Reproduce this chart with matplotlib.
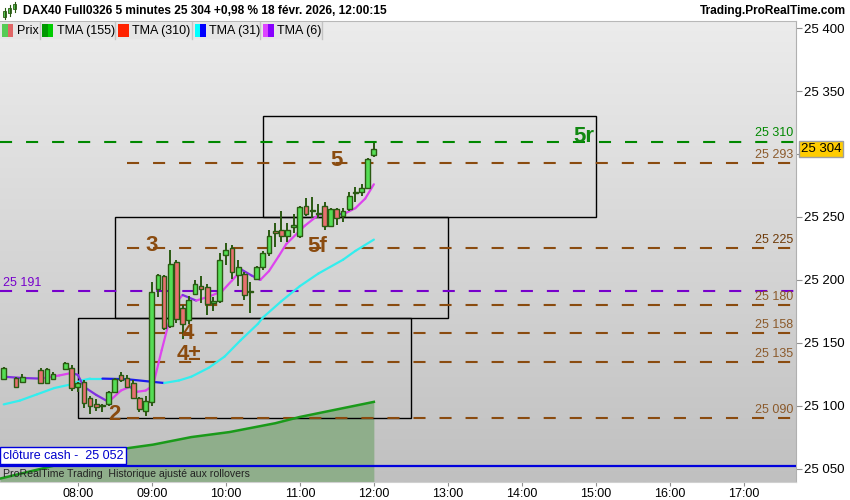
import numpy as np
import matplotlib
matplotlib.use('Agg')
import matplotlib.pyplot as plt
from matplotlib.colors import LinearSegmentedColormap
from matplotlib.collections import LineCollection
from matplotlib.patches import Rectangle

plt.rcParams['font.family'] = ['Liberation Sans', 'DejaVu Sans']


def hrs(t):
    hh, mm = t.split(':')
    return int(hh) + int(mm) / 60.0


def fmt(v):
    return f'{v:,}'.replace(',', ' ')


# --- bougies 5 minutes (DAX40 Full0326) ---
times = ['07:00', '07:10', '07:15', '07:30', '07:35', '07:40', '07:50', '07:55',
         '08:00', '08:05', '08:10', '08:15', '08:20', '08:25', '08:30', '08:35',
         '08:40', '08:45', '08:50', '08:55', '09:00', '09:05', '09:10', '09:15',
         '09:20', '09:25', '09:30', '09:35', '09:40', '09:45', '09:50', '09:55',
         '10:00', '10:05', '10:10', '10:15', '10:20', '10:25', '10:30', '10:35',
         '10:40', '10:45', '10:50', '10:55', '11:00', '11:05', '11:10', '11:15',
         '11:20', '11:25', '11:30', '11:35', '11:40', '11:45', '11:50', '11:55',
         '12:00']
opens = [25121, 25122, 25119, 25128, 25118, 25121, 25129, 25130,
         25115, 25119, 25106, 25101, 25100, 25101, 25111, 25124,
         25122, 25118, 25106, 25096, 25103, 25193, 25203, 25163,
         25214, 25178, 25168, 25189, 25195, 25194, 25182, 25183,
         25220, 25225, 25204, 25205, 25190, 25201, 25210, 25221,
         25239, 25240, 25235, 25242, 25235, 25259, 25255, 25252,
         25259, 25243, 25256, 25251, 25256, 25269, 25270, 25273,
         25299]
highs = [25131, 25123, 25125, 25130, 25130, 25127, 25135, 25132,
         25119, 25120, 25108, 25105, 25101, 25112, 25122, 25127,
         25124, 25120, 25107, 25108, 25198, 25205, 25204, 25224,
         25216, 25180, 25187, 25200, 25203, 25197, 25186, 25221,
         25229, 25228, 25216, 25206, 25198, 25211, 25223, 25240,
         25245, 25255, 25245, 25252, 25259, 25265, 25266, 25260,
         25262, 25257, 25257, 25257, 25270, 25274, 25276, 25297,
         25309]
lows = [25120, 25114, 25118, 25117, 25117, 25120, 25128, 25112,
        25111, 25098, 25093, 25096, 25095, 25100, 25110, 25119,
        25114, 25105, 25095, 25092, 25100, 25186, 25160, 25162,
        25166, 25153, 25165, 25188, 25182, 25172, 25175, 25182,
        25212, 25201, 25195, 25184, 25174, 25200, 25208, 25219,
        25226, 25230, 25230, 25237, 25233, 25251, 25249, 25249,
        25240, 25242, 25244, 25246, 25255, 25262, 25267, 25272,
        25298]
closes = [25130, 25115, 25123, 25118, 25129, 25125, 25134, 25114,
          25118, 25102, 25100, 25099, 25100, 25111, 25121, 25120,
          25115, 25106, 25097, 25104, 25190, 25204, 25162, 25213,
          25169, 25165, 25184, 25197, 25193, 25181, 25182, 25216,
          25224, 25206, 25210, 25188, 25190, 25210, 25221, 25235,
          25237, 25235, 25240, 25244, 25258, 25252, 25255, 25253,
          25243, 25256, 25249, 25255, 25267, 25269, 25273, 25296,
          25304]

# --- moyennes TMA ---
tma6_t = ['07:00', '07:15', '07:30', '07:45', '07:55', '08:00', '08:05', '08:15',
          '08:25', '08:35', '08:42', '08:48', '08:55', '09:01', '09:08', '09:13',
          '09:18', '09:25', '09:36', '09:47', '09:57', '10:05', '10:13', '10:21',
          '10:28', '10:35', '10:43', '10:49', '11:04', '11:15', '11:26', '11:35',
          '11:45', '11:53', '12:00']
tma6_v = [25123, 25122, 25121.5, 25124, 25126, 25124.5, 25115, 25108.5,
          25103, 25112, 25115, 25111, 25112, 25116, 25144, 25163,
          25180, 25188, 25183.5, 25187, 25191, 25199.5, 25208, 25203.4,
          25200, 25207, 25219, 25228.5, 25243, 25251.6, 25253.4, 25252,
          25257, 25264.6, 25276]

tma31_t = ['07:00', '07:13', '07:27', '07:41', '07:55', '08:03', '08:10', '08:20',
           '08:40', '09:00', '09:10', '09:22', '09:32', '09:46', '09:59', '10:12',
           '10:26', '10:30', '10:45', '11:00', '11:15', '11:35', '11:45', '12:00']
tma31_v = [25101, 25104, 25109, 25114, 25117, 25120, 25121.5, 25121.5,
           25121, 25119, 25118, 25120, 25123, 25130, 25139, 25152,
           25165, 25170, 25183, 25195, 25205, 25216, 25223, 25232]

tma155_t = ['06:57', '08:39', '09:01', '09:32', '10:03', '10:40', '11:00', '11:30', '12:00']
tma155_v = [25042, 25066, 25069, 25075, 25079, 25086, 25091, 25097, 25103]

# --- niveaux et zones ---
level_green = 25310
levels_brown = [25293, 25225, 25180, 25158, 25135, 25090]
level_purple = 25191
cash_close = 25052
last_price = 25304
brown_start = '08:40'

box_start = ['08:00', '08:30', '10:30']
box_end = ['12:30', '13:00', '15:00']
box_low = [25090, 25170, 25250]
box_high = [25170, 25250, 25330]

wave_labels = ['2', '3', '4', '4±', '5', '5f']
wave_t = ['08:30', '09:00', '09:29', '09:30', '11:30', '11:14']
wave_p = [25092.6, 25227.7, 25157, 25140.3, 25294.5, 25226.6]

x_ticks = ['08:00', '09:00', '10:00', '11:00', '12:00', '13:00', '14:00', '15:00', '16:00', '17:00']
y_ticks = [25050, 25100, 25150, 25200, 25250, 25300, 25350, 25400]

BROWN = '#8a4b0f'
BROWN_TXT = '#8b5a2b'
GREEN_LVL = '#008800'
PURPLE = '#7700cc'

W, H = 850, 500
fig = plt.figure(figsize=(W / 100, H / 100), dpi=100)
fig.patch.set_facecolor('white')
# zone de tracé : x 0..796 px, y 21..482 px
ax = fig.add_axes([0, (H - 482) / H, 796 / W, (482 - 21) / H])

xmin, xmax = hrs('06:57') - 0.0005, 17.703
ymin, ymax = 25039.3, 25405.8

# fond en dégradé
cmap = LinearSegmentedColormap.from_list('bg', ['#ececec', '#c0c0c0'])
ax.imshow(np.linspace(0, 1, 256).reshape(-1, 1), cmap=cmap, aspect='auto',
          extent=[0, 1, 0, 1], transform=ax.transAxes, zorder=0)

# TMA 155 + remplissage
t155 = [hrs(t) for t in tma155_t]
ax.fill_between(t155, tma155_v, ymin, color='#8fae8b', zorder=1, lw=0)
ax.plot(t155, tma155_v, color='#1a9a1a', lw=1.8, zorder=4)

# clôture cash
ax.axhline(cash_close, color='#0000dd', lw=1.6, zorder=4)

# rectangles
for s, e, lo, hi in zip(box_start, box_end, box_low, box_high):
    ax.add_patch(Rectangle((hrs(s), lo), hrs(e) - hrs(s), hi - lo,
                           fill=False, edgecolor='black', lw=1.0, zorder=2))

dash = (0, (5.8, 6.7))
ax.axhline(level_green, color=GREEN_LVL, lw=1.5, ls=dash, zorder=3)
ax.axhline(level_purple, color=PURPLE, lw=1.5, ls=dash, zorder=3)
ax.hlines(levels_brown, hrs(brown_start), xmax, color=BROWN, lw=1.5, ls=dash, zorder=3)


def slope_line(xs, ys, up, down, lw):
    pts = np.column_stack([xs, ys])
    segs = np.stack([pts[:-1], pts[1:]], axis=1)
    cols = [up if b >= a else down for a, b in zip(ys[:-1], ys[1:])]
    ax.add_collection(LineCollection(segs, colors=cols, linewidths=lw,
                                     capstyle='round', zorder=4))


slope_line([hrs(t) for t in tma31_t], tma31_v, '#33eeee', '#1a1aee', 1.6)
slope_line([hrs(t) for t in tma6_t], tma6_v, '#dd44ee', '#8030e0', 1.6)

# bougies
tx = np.array([hrs(t) for t in times])
o = np.array(opens); c = np.array(closes)
ax.vlines(tx, lows, highs, color='#2a5a12', lw=1.4, zorder=5)
body_col = np.where(c >= o, '#55dd55', '#e87070')
ax.bar(tx, np.maximum(np.abs(c - o), 0.9), bottom=np.minimum(o, c), width=0.064,
       color=body_col, edgecolor='#2a5a12', linewidth=1.0, zorder=6)

# étiquettes des vagues
for lab, t, p in zip(wave_labels, wave_t, wave_p):
    ax.text(hrs(t), p, lab, color=BROWN, fontsize=16, fontweight='bold',
            ha='center', va='center', zorder=7)
ax.text(hrs('14:50'), 25313.6, '5r', color='#118811', fontsize=16, fontweight='bold',
        ha='center', va='center', zorder=7)

# étiquettes des niveaux
ytr = ax.get_yaxis_transform()
ax.annotate(fmt(level_green), xy=(1, level_green), xycoords=ytr,
            xytext=(-2, 1.5), textcoords='offset points', ha='right', va='bottom',
            color=GREEN_LVL, fontsize=9, zorder=7)
for lv in levels_brown:
    ax.annotate(fmt(lv), xy=(1, lv), xycoords=ytr,
                xytext=(-2, 1.5), textcoords='offset points', ha='right', va='bottom',
                color=('#6e3a08' if lv == 25225 else BROWN_TXT), fontsize=9, zorder=7)
ax.annotate(fmt(level_purple), xy=(0, level_purple), xycoords=ytr,
            xytext=(2, 1.5), textcoords='offset points', ha='left', va='bottom',
            color=PURPLE, fontsize=9, zorder=7)
ax.annotate(f'clôture cash -  {fmt(cash_close)}', xy=(0, cash_close), xycoords=ytr,
            xytext=(2, 3), textcoords='offset points', ha='left', va='bottom',
            color='#0000cc', fontsize=9, zorder=7,
            bbox=dict(boxstyle='square,pad=0.2', fc='white', ec='#0000dd', lw=1))

# prix courant
ax.text(1.006, last_price, fmt(last_price), transform=ytr,
        ha='left', va='center', fontsize=9.5, color='black', zorder=8, clip_on=False,
        bbox=dict(boxstyle='square,pad=0.15', fc='#ffcc00', ec='#a0a0a0', lw=1))

# axes
ax.set_xlim(xmin, xmax)
ax.set_ylim(ymin, ymax)
ax.yaxis.tick_right()
ax.set_yticks(y_ticks)
ax.set_yticklabels([('' if v == 25300 else fmt(v)) for v in y_ticks], fontsize=9.5)
ax.set_xticks([hrs(t) for t in x_ticks])
ax.set_xticklabels(x_ticks, fontsize=9)
ax.tick_params(axis='y', length=4, color='#909090', pad=2)
ax.tick_params(axis='x', length=3, color='#909090', pad=1)
ax.spines['left'].set_visible(False)
ax.spines['right'].set_color('#b0b0b0')
ax.spines['top'].set_color('#b8b8b8')
ax.spines['bottom'].set_color('#d0d0d0')

# en-tête et légende (coordonnées en pixels)
deco = fig.add_axes([0, 0, 1, 1], zorder=10)
deco.set_xlim(0, W)
deco.set_ylim(H, 0)
deco.axis('off')
deco.patch.set_visible(False)

deco.text(3, 474, 'ProRealTime Trading  Historique ajusté aux rollovers',
          fontsize=7.6, color='#222222', ha='left', va='center')

# icône
for x0, y0, y1, yb0, yb1 in [(5, 8, 19, 11, 17), (10, 5, 16, 8, 13), (15, 2, 12, 4, 9)]:
    deco.plot([x0, x0], [y0, y1], color='#2a5a12', lw=0.8)
    deco.add_patch(Rectangle((x0 - 1.5, yb0), 3, yb1 - yb0, fc='#55cc55', ec='#2a5a12', lw=0.6))
deco.text(23, 11, 'DAX40 Full0326 5 minutes 25 304 +0,98 % 18 févr. 2026, 12:00:15',
          fontsize=8.6, fontweight='bold', ha='left', va='center', color='black')
deco.text(846, 11, 'Trading.ProRealTime.com', fontsize=8.6, fontweight='bold',
          ha='right', va='center', color='black')

legend_items = ['Prix', 'TMA (155)', 'TMA (310)', 'TMA (31)', 'TMA (6)']
legend_cols = [('#55cc55', '#e06666'), ('#009900', '#00cc00'), ('#ff2200', '#ff2200'),
               ('#00ffff', '#0000ff'), ('#dd44ff', '#8800ff')]
cell_x = [0, 40, 115.5, 192.5, 260.5, 322]
for i, (lab, (c1, c2)) in enumerate(zip(legend_items, legend_cols)):
    xa, xb = cell_x[i], cell_x[i + 1]
    deco.add_patch(Rectangle((xa, 22), xb - xa, 17, fc='#e6e6e6', ec='none'))
    deco.plot([xb, xb], [22, 39], color='#c4c4c4', lw=1)
    deco.add_patch(Rectangle((xa + 2.5, 24), 5.5, 13, fc=c1, ec='none'))
    deco.add_patch(Rectangle((xa + 8, 24), 5.5, 13, fc=c2, ec='none'))
    deco.text(xa + 17, 31, lab, fontsize=9, ha='left', va='center', color='black')

fig.savefig('out.png', dpi=100)
